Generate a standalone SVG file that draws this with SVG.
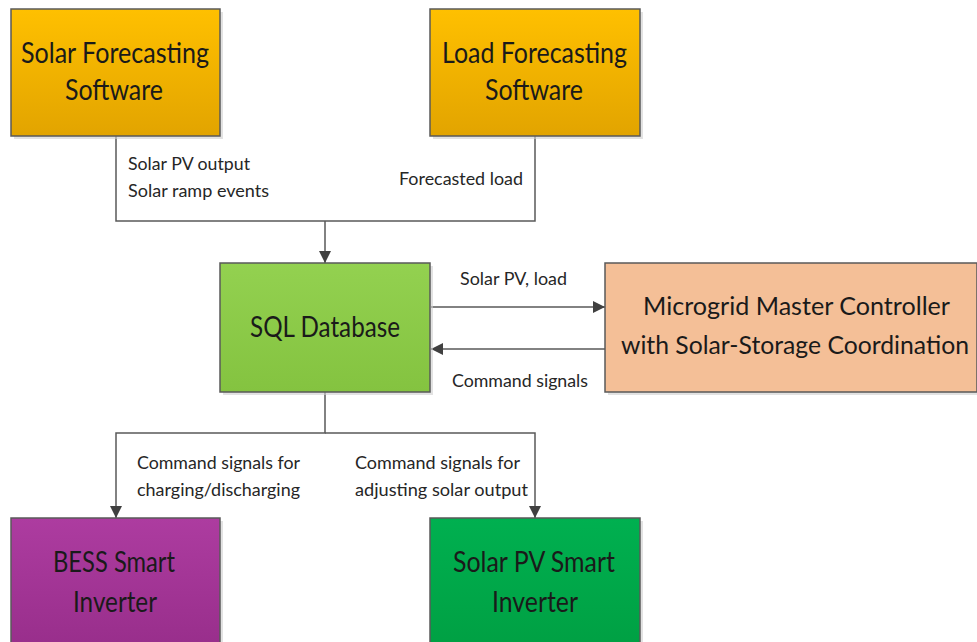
<svg xmlns="http://www.w3.org/2000/svg" width="977" height="642" viewBox="0 0 977 642">
<style>
.box{stroke:#595959;stroke-width:1.5}
.sh{fill:#cfcfcf;opacity:0.6}
.big{font-family:Lato,"Open Sans",sans-serif;font-size:28px;fill:#1a1a1a}
.mid{font-family:Lato,"Open Sans",sans-serif;font-size:25px;fill:#1a1a1a}
.sm{font-family:Lato,"Open Sans",sans-serif;font-size:17px;fill:#262626}
.ln{fill:none;stroke:#595959;stroke-width:1.5}
</style>
<defs>
<linearGradient id="gOr" x1="0" y1="0" x2="0" y2="1"><stop offset="0" stop-color="#ffc000"/><stop offset="1" stop-color="#e2a400"/></linearGradient>
<linearGradient id="gLg" x1="0" y1="0" x2="0" y2="1"><stop offset="0" stop-color="#93d150"/><stop offset="1" stop-color="#84c340"/></linearGradient>
<linearGradient id="gPu" x1="0" y1="0" x2="0" y2="1"><stop offset="0" stop-color="#ad3ca0"/><stop offset="1" stop-color="#982e8b"/></linearGradient>
<linearGradient id="gDg" x1="0" y1="0" x2="0" y2="1"><stop offset="0" stop-color="#00b050"/><stop offset="1" stop-color="#00a043"/></linearGradient>
<marker id="ah" viewBox="0 0 12 12" refX="12" refY="6" markerWidth="12" markerHeight="12" markerUnits="userSpaceOnUse" orient="auto">
<path d="M0,0 L12,6 L0,12 Z" fill="#404040"/>
</marker>
</defs>
<rect width="977" height="642" fill="#ffffff"/>
<g id="connectors">
<path class="ln" d="M116,136 V221 H535 V136"/>
<path class="ln" d="M325,221 V263" marker-end="url(#ah)"/>
<path class="ln" d="M431,307 H605" marker-end="url(#ah)"/>
<path class="ln" d="M605,349 H431" marker-end="url(#ah)"/>
<path class="ln" d="M325,392 V433 H116 V518" marker-end="url(#ah)"/>
<path class="ln" d="M325,433 H535 V518" marker-end="url(#ah)"/>
<text class="sm" x="128" y="170" textLength="122" lengthAdjust="spacingAndGlyphs">Solar PV output</text>
<text class="sm" x="128" y="197" textLength="141" lengthAdjust="spacingAndGlyphs">Solar ramp events</text>
<text class="sm" x="399" y="185" textLength="124" lengthAdjust="spacingAndGlyphs">Forecasted load</text>
<text class="sm" x="460" y="285" textLength="107" lengthAdjust="spacingAndGlyphs">Solar PV, load</text>
<text class="sm" x="452" y="387" textLength="136" lengthAdjust="spacingAndGlyphs">Command signals</text>
<text class="sm" x="137" y="469" textLength="163" lengthAdjust="spacingAndGlyphs">Command signals for</text>
<text class="sm" x="137" y="496" textLength="163" lengthAdjust="spacingAndGlyphs">charging/discharging</text>
<text class="sm" x="355" y="469" textLength="165" lengthAdjust="spacingAndGlyphs">Command signals for</text>
<text class="sm" x="355" y="496" textLength="173" lengthAdjust="spacingAndGlyphs">adjusting solar output</text>
</g>
<g id="solar-forecasting">
<rect class="sh" x="14" y="12" width="209" height="127"/>
<rect class="box" x="11" y="9" width="209" height="127" fill="url(#gOr)"/>
<text class="big" x="21" y="63" textLength="188" lengthAdjust="spacingAndGlyphs">Solar Forecasting</text>
<text class="big" x="65" y="100" textLength="98" lengthAdjust="spacingAndGlyphs">Software</text>
</g>
<g id="load-forecasting">
<rect class="sh" x="433" y="12" width="210" height="127"/>
<rect class="box" x="430" y="9" width="210" height="127" fill="url(#gOr)"/>
<text class="big" x="442" y="63" textLength="185" lengthAdjust="spacingAndGlyphs">Load Forecasting</text>
<text class="big" x="485" y="100" textLength="98" lengthAdjust="spacingAndGlyphs">Software</text>
</g>
<g id="sql-database">
<rect class="sh" x="223" y="266" width="210" height="129"/>
<rect class="box" x="220" y="263" width="210" height="129" fill="url(#gLg)"/>
<text class="big" x="250" y="337" textLength="150" lengthAdjust="spacingAndGlyphs">SQL Database</text>
</g>
<g id="master-controller">
<rect class="sh" x="608" y="266" width="369" height="129"/>
<rect class="box" x="605" y="263" width="372" height="129" fill="#f4bf97"/>
<text class="mid" x="643" y="315" textLength="307" lengthAdjust="spacingAndGlyphs">Microgrid Master Controller</text>
<text class="mid" x="621" y="354" textLength="348" lengthAdjust="spacingAndGlyphs">with Solar-Storage Coordination</text>
</g>
<g id="bess-inverter">
<rect class="sh" x="14" y="521" width="209" height="121"/>
<rect class="box" x="11" y="518" width="209" height="130" fill="url(#gPu)"/>
<text class="big" x="53" y="572" textLength="122" lengthAdjust="spacingAndGlyphs">BESS Smart</text>
<text class="big" x="73" y="612" textLength="84" lengthAdjust="spacingAndGlyphs">Inverter</text>
</g>
<g id="pv-inverter">
<rect class="sh" x="433" y="521" width="210" height="121"/>
<rect class="box" x="430" y="518" width="210" height="130" fill="url(#gDg)"/>
<text class="big" x="453" y="572" textLength="162" lengthAdjust="spacingAndGlyphs">Solar PV Smart</text>
<text class="big" x="492" y="612" textLength="86" lengthAdjust="spacingAndGlyphs">Inverter</text>
</g>
</svg>
